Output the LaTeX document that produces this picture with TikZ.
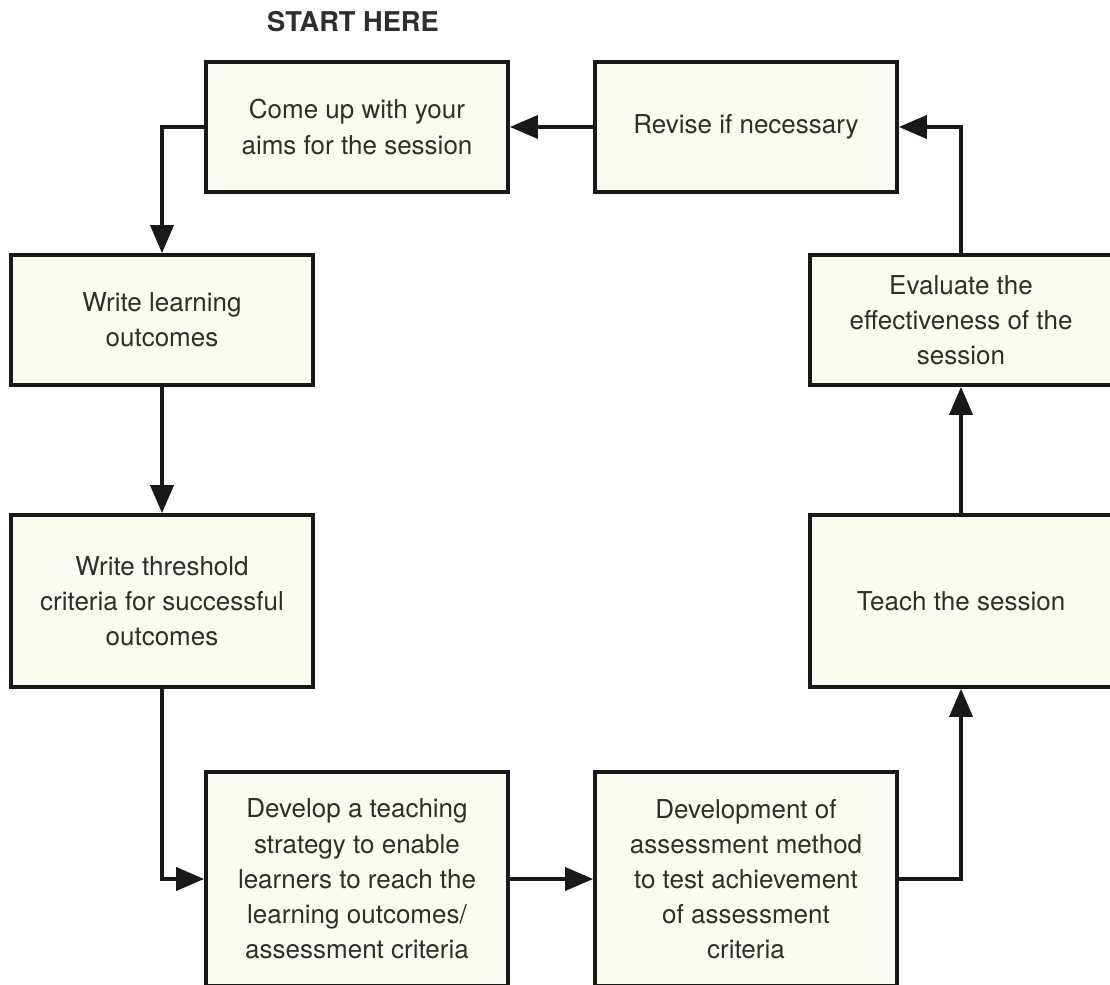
\documentclass[tikz,border=0pt]{standalone}
\usepackage{fontspec}
\setmainfont{TeX Gyre Heros}
\usepackage{xcolor}
\usetikzlibrary{arrows.meta}

\begin{document}
\begin{tikzpicture}
    \definecolor{Cream}{HTML}{FCFBF2}
    \definecolor{InkGray}{HTML}{2E2E2E}
    \useasboundingbox (0,0) rectangle (22.2,19.68);
    \clip (0,0) rectangle (22.2,19.68);
    \tikzset{
        stepbox/.style={draw=black!90, line width=2.1pt, fill=Cream,
            text=InkGray, align=center, inner sep=0pt,
            minimum width=6.04cm, minimum height=2.6cm,
            font=\fontsize{14.8}{20}\selectfont},
        tallbox/.style={stepbox, minimum height=3.44cm},
        deepbox/.style={stepbox, minimum height=4.28cm},
        flow/.style={line width=2.1pt, draw=black!90,
            -{Triangle[length=0.56cm, width=0.46cm]}}
    }
    \node[font=\fontsize{15.5}{18}\selectfont\bfseries, text=InkGray]
        (start) at (7.06,19.24) {START HERE};
    \node[stepbox] (aims) at (7.14,17.14) {Come up with your\\aims for the session};
    \node[stepbox] (revise) at (14.92,17.14) {Revise if necessary};
    \node[stepbox] (outcomes) at (3.24,13.28) {Write learning\\outcomes};
    \node[stepbox] (evaluate) at (19.22,13.28) {Evaluate the\\effectiveness of the\\session};
    \node[tallbox] (threshold) at (3.24,7.66) {Write threshold\\criteria for successful\\outcomes};
    \node[tallbox] (teach) at (19.22,7.66) {Teach the session};
    \node[deepbox] (strategy) at (7.14,2.1) {Develop a teaching\\strategy to enable\\learners to reach the\\learning outcomes/\\assessment criteria};
    \node[deepbox] (method) at (14.92,2.1) {Development of\\assessment method\\to test achievement\\of assessment\\criteria};
    \foreach \from/\to in {revise/aims,outcomes/threshold,teach/evaluate,strategy/method}
        \draw[flow] (\from) -- (\to);
    \draw[flow] (aims.west) -| (outcomes.north);
    \draw[flow] (threshold.south) |- (strategy.west);
    \draw[flow] (method.east) -| (teach.south);
    \draw[flow] (evaluate.north) |- (revise.east);
\end{tikzpicture}
\end{document}
